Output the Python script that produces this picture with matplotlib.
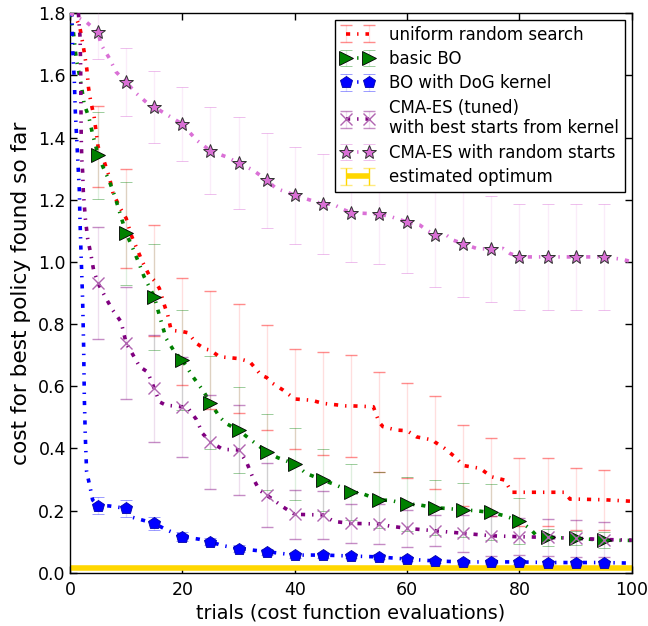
import matplotlib
matplotlib.use('Agg')
import matplotlib.pyplot as plt
import numpy as np

plt.rcParams['font.family'] = ['DejaVu Sans']
plt.rcParams['lines.scale_dashes'] = False

# trials at which markers / error bars are shown
steps = [5, 10, 15, 20, 25, 30, 35, 40, 45, 50, 55, 60, 65, 70, 75, 80, 85, 90, 95]

# uniform random search
t_rand = [0, 1.2, 1.8, 2.4, 3.0, 3.3, 3.7, 4.3, 5, 5.5, 6.1, 7, 7.6, 8.8, 10, 10.9, 12.9, 14.1, 15,
          15.9, 16.8, 17.4, 18, 20, 21, 22.5, 24, 25, 26.6, 30, 32, 34, 35, 36.1, 37.9, 40, 43, 45,
          49, 50, 54, 55, 55.7, 58.1, 60, 61.7, 64.6, 65, 66.7, 68.5, 70, 73, 75, 77.4, 78.6, 80,
          85, 88, 89, 90, 95, 100]
c_rand = [1.80, 1.78, 1.75, 1.69, 1.62, 1.56, 1.515, 1.467, 1.37, 1.354, 1.322, 1.273, 1.225, 1.177,
          1.14, 1.086, 1.0, 0.957, 0.94, 0.915, 0.861, 0.829, 0.78, 0.776, 0.772, 0.738, 0.72, 0.716,
          0.695, 0.689, 0.679, 0.636, 0.628, 0.609, 0.588, 0.559, 0.555, 0.545, 0.537, 0.537, 0.534,
          0.485, 0.47, 0.459, 0.457, 0.437, 0.427, 0.42, 0.40, 0.373, 0.345, 0.336, 0.309, 0.298,
          0.259, 0.259, 0.259, 0.259, 0.237, 0.237, 0.235, 0.23]
e_rand = [0.13, 0.16, 0.177, 0.173, 0.19, 0.176, 0.17, 0.16, 0.166, 0.165, 0.16, 0.152, 0.15,
          0.13, 0.125, 0.11, 0.11, 0.1, 0.097]

# basic BO
t_bo = [0, 0.6, 1.1, 1.8, 2.1, 2.5, 3.4, 4, 5, 6, 7, 8, 9, 10, 11.2, 12.4, 13.2, 15, 15.9, 17.1,
        18.6, 20, 21.9, 23.6, 25, 26.6, 27.8, 30, 32, 35, 37, 40, 42, 45, 47, 50, 52, 55, 57, 60,
        62, 65, 67, 70, 72, 75, 77, 80, 82, 83, 85, 90, 95, 100]
c_bo = [1.80, 1.74, 1.655, 1.59, 1.558, 1.51, 1.462, 1.413, 1.343, 1.30, 1.26, 1.21, 1.15, 1.092,
        1.043, 0.99, 0.952, 0.888, 0.829, 0.754, 0.711, 0.684, 0.63, 0.588, 0.547, 0.502, 0.48,
        0.459, 0.43, 0.389, 0.37, 0.35, 0.32, 0.298, 0.285, 0.261, 0.255, 0.234, 0.233, 0.221,
        0.219, 0.209, 0.207, 0.202, 0.2, 0.194, 0.185, 0.167, 0.14, 0.12, 0.114, 0.111, 0.105, 0.104]
e_bo = [0.14, 0.165, 0.171, 0.162, 0.15, 0.138, 0.122, 0.115, 0.1, 0.09, 0.09, 0.088, 0.089,
        0.088, 0.09, 0.075, 0.027, 0.022, 0.025]

# BO with DoG kernel
t_dog = [0, 0.35, 0.47, 0.77, 0.95, 1.36, 1.66, 1.78, 1.96, 2.14, 2.25, 2.43, 2.55, 2.73, 2.96,
         3.56, 4.03, 5, 7, 10, 11.2, 15, 17, 20, 23, 25, 27, 30, 35, 40, 45, 50, 55, 60, 65, 70,
         75, 80, 85, 90, 95, 100]
c_dog = [1.80, 1.794, 1.687, 1.585, 1.483, 1.338, 1.231, 1.134, 1.032, 0.936, 0.877, 0.727, 0.566,
         0.437, 0.325, 0.277, 0.234, 0.216, 0.215, 0.207, 0.178, 0.159, 0.14, 0.116, 0.108, 0.1,
         0.088, 0.078, 0.068, 0.057, 0.057, 0.054, 0.051, 0.044, 0.038, 0.035, 0.035, 0.035,
         0.033, 0.033, 0.033, 0.031]
e_dog = [0.027, 0.028, 0.02, 0.015, 0.012, 0.01, 0.01, 0.008, 0.008, 0.008, 0.008, 0.007,
         0.007, 0.006, 0.006, 0.006, 0.006, 0.006, 0.006]

# CMA-ES (tuned) with best starts from kernel
t_cma = [1.5, 1.8, 1.9, 1.95, 2.0, 2.1, 2.25, 2.37, 2.73, 3.14, 3.74, 4.2, 5, 6.4, 7.6, 9.1, 10,
         10.9, 12.4, 13.8, 15, 15.9, 17.1, 20, 21, 22.5, 23.6, 25, 27.2, 30, 31.4, 32.6, 33.7, 35,
         36.7, 37.9, 40, 45, 47, 50, 55, 57, 60, 65, 70, 75, 80, 85, 90, 95, 100]
c_cma = [1.80, 1.72, 1.62, 1.50, 1.40, 1.33, 1.29, 1.226, 1.14, 1.076, 1.022, 0.974, 0.931, 0.883,
         0.845, 0.807, 0.738, 0.711, 0.663, 0.646, 0.593, 0.55, 0.539, 0.534, 0.53, 0.493, 0.448,
         0.421, 0.397, 0.395, 0.357, 0.304, 0.266, 0.25, 0.228, 0.212, 0.188, 0.186, 0.165, 0.159,
         0.157, 0.15, 0.143, 0.135, 0.127, 0.119, 0.116, 0.114, 0.111, 0.107, 0.105]
e_cma = [0.18, 0.18, 0.172, 0.16, 0.15, 0.146, 0.102, 0.078, 0.077, 0.063, 0.063, 0.06, 0.05,
         0.06, 0.065, 0.06, 0.06, 0.06, 0.055]

# CMA-ES with random starts
t_cmar = [0, 1.5, 3, 5, 5.5, 7, 8.2, 10, 11.8, 13.8, 15, 18.3, 20, 22.5, 25, 27.8, 30, 32.6, 35,
          36.7, 40, 42.7, 45, 46.8, 48.6, 50, 55, 57.2, 60, 62.3, 63.5, 65, 67, 68.2, 70, 72.4, 75,
          77.1, 78.3, 80, 85, 90, 95, 98.4, 100]
c_cmar = [1.80, 1.785, 1.77, 1.739, 1.70, 1.655, 1.611, 1.578, 1.542, 1.51, 1.498, 1.462, 1.443,
          1.392, 1.357, 1.338, 1.318, 1.295, 1.263, 1.236, 1.215, 1.199, 1.186, 1.186, 1.169, 1.158,
          1.154, 1.145, 1.128, 1.118, 1.102, 1.087, 1.086, 1.07, 1.058, 1.043, 1.041, 1.043, 1.027,
          1.016, 1.016, 1.016, 1.016, 1.008, 1.0]
e_cmar = [0.085, 0.11, 0.115, 0.12, 0.14, 0.147, 0.153, 0.156, 0.16, 0.16, 0.16, 0.165, 0.167,
          0.17, 0.17, 0.17, 0.17, 0.17, 0.17]

# estimated optimum
t_opt = [0, 100]
c_opt = [0.017, 0.017]


def at_steps(t, c):
    t = np.asarray(t)
    c = np.asarray(c)
    return np.array([c[t == s][0] for s in steps])


fig = plt.figure(figsize=(6.48, 6.26), dpi=100)
ax = fig.add_axes([0.108, 0.085, 0.867, 0.894])

series = [
    (t_rand, c_rand, e_rand, 'red', dict(marker='None'), 'uniform random search'),
    (t_bo, c_bo, e_bo, 'green', dict(marker='>', markersize=10, markeredgecolor='black',
                                       markerfacecolor='green', markeredgewidth=0.6), 'basic BO'),
    (t_dog, c_dog, e_dog, 'blue', dict(marker='p', markersize=9, markeredgecolor='#0000aa',
                                         markerfacecolor='blue', markeredgewidth=0.6),
     'BO with DoG kernel'),
    (t_cma, c_cma, e_cma, 'purple', dict(marker='x', markersize=9, markeredgecolor='#b065b0',
                                           markeredgewidth=1.0),
     'CMA-ES (tuned)\nwith best starts from kernel'),
    (t_cmar, c_cmar, e_cmar, 'orchid', dict(marker='*', markersize=10, markeredgecolor='#303030',
                                             markerfacecolor='orchid', markeredgewidth=0.7),
     'CMA-ES with random starts'),
]

handles = []
labels = []
for t, c, e, col, mk, lab in series:
    ln, = ax.plot(t, c, color=col, linewidth=2.6, dashes=(3, 5, 1, 5), dash_capstyle='butt',
                  zorder=3)
    eb = ax.errorbar(steps, at_steps(t, c), yerr=e, color=col, ecolor=col, linestyle='none',
                     elinewidth=1, capsize=4, capthick=1, zorder=4, **mk)
    for cap in eb[1]:
        cap.set_alpha(0.45)
    for bar in eb[2]:
        bar.set_alpha(0.13)
    handles.append((ln, eb))
    labels.append(lab)

# estimated optimum
ln, = ax.plot(t_opt, c_opt, color='gold', linewidth=4, solid_capstyle='butt', zorder=2)
eb = ax.errorbar(steps, np.interp(steps, t_opt, c_opt), yerr=np.zeros(len(steps)), color='gold',
                 ecolor='gold', linestyle='none', marker='None', capsize=4, elinewidth=1)
for cap in eb[1]:
    cap.set_alpha(0.5)
handles.append((ln, eb))
labels.append('estimated optimum')

ax.set_xlim(0, 100)
ax.set_ylim(0, 1.8)
ax.set_xticks([0, 20, 40, 60, 80, 100])
ax.set_yticks(np.arange(0, 1.81, 0.2))
ax.set_yticklabels(['%.1f' % v for v in np.arange(0, 1.81, 0.2)])
ax.tick_params(direction='in', top=True, right=True, labelsize=12.5, length=5, width=1)
ax.tick_params(axis='x', pad=6)
ax.tick_params(axis='y', pad=3)
for sp in ax.spines.values():
    sp.set_linewidth(1)

ax.set_xlabel('trials (cost function evaluations)', fontsize=13.8, labelpad=3)
ax.set_ylabel('cost for best policy found so far', fontsize=15.6, labelpad=5)

leg = ax.legend(handles, labels, loc='upper right', numpoints=2, fontsize=12, fancybox=False,
                framealpha=1, edgecolor='black', borderaxespad=0.4, labelspacing=0.38,
                handletextpad=0.9, borderpad=0.35)
leg.get_frame().set_linewidth(1)

fig.savefig('out.png', dpi=100)
